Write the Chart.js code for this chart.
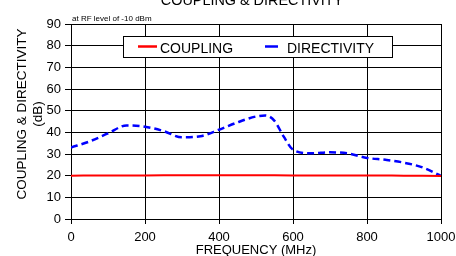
<!DOCTYPE html>
<html>
<head>
<meta charset="utf-8">
<script src="https://cdn.jsdelivr.net/npm/chart.js@4.4.1/dist/chart.umd.min.js"></script>
<style>
  html, body { margin: 0; padding: 0; background: #fff; }
  #wrap { width: 456px; height: 256px; }
</style>
</head>
<body>
<div id="wrap"><canvas id="chart" width="456" height="256"></canvas></div>
<script>
// values
const freqMHz = [0, 50, 100, 150, 200, 250, 300, 350, 400, 450, 500, 525, 550, 575, 600, 650, 700, 750, 800, 850, 900, 950, 1000];
const directivity = [33, 35.8, 39.5, 43.2, 42.6, 40.6, 37.7, 38.2, 41.2, 44.6, 47.3, 47.8, 45.3, 38, 32, 30.3, 30.8, 30.2, 28.2, 27.3, 26, 23.8, 19.9];
const couplingFreq = [0, 100, 200, 300, 400, 500, 600, 700, 800, 900, 1000];
const coupling = [20.0, 20.1, 20.1, 20.2, 20.2, 20.2, 20.1, 20.1, 20.1, 20.0, 19.9];
const xTicks = [0, 200, 400, 600, 800, 1000];
const yTicks = [0, 10, 20, 30, 40, 50, 60, 70, 80, 90];

const FONT = 'Arial, "Liberation Sans", sans-serif';

// header title, note, y-axis title and boxed legend
const extras = {
  id: 'extras',
  afterDraw(chart) {
    const ctx = chart.ctx;
    ctx.save();
    ctx.fillStyle = '#000';
    ctx.textBaseline = 'alphabetic';

    ctx.font = '14.4px ' + FONT;
    ctx.textAlign = 'center';
    ctx.fillText('COUPLING & DIRECTIVITY', 252, 5);

    ctx.font = '8px ' + FONT;
    ctx.textAlign = 'left';
    ctx.fillText('at RF level of -10 dBm', 72, 21);

    ctx.save();
    ctx.translate(22, 114);
    ctx.rotate(-Math.PI / 2);
    ctx.font = '13.5px ' + FONT;
    ctx.textAlign = 'center';
    ctx.textBaseline = 'middle';
    ctx.fillText('COUPLING & DIRECTIVITY', 0, 0);
    ctx.fillText('(dB)', 0, 16);
    ctx.restore();

    // legend box
    ctx.fillStyle = '#fff';
    ctx.fillRect(123, 36, 269, 21);
    ctx.strokeStyle = '#000';
    ctx.lineWidth = 1;
    ctx.strokeRect(123.5, 36.5, 269, 21);

    const items = [
      { x: 138, len: 19, tx: 160 },
      { x: 265, len: 13, tx: 287 }
    ];
    chart.data.datasets.forEach((ds, i) => {
      const it = items[i];
      ctx.strokeStyle = ds.borderColor;
      ctx.lineWidth = 2.5;
      ctx.setLineDash([]);
      ctx.beginPath();
      ctx.moveTo(it.x, 46.5);
      ctx.lineTo(it.x + it.len, 46.5);
      ctx.stroke();
      ctx.fillStyle = '#000';
      ctx.font = '14px ' + FONT;
      ctx.textAlign = 'left';
      ctx.fillText(ds.label, it.tx, 53);
    });
    ctx.restore();
  }
};

new Chart(document.getElementById('chart'), {
  type: 'scatter',
  data: {
    datasets: [
      {
        label: 'COUPLING',
        data: couplingFreq.map((f, i) => ({ x: f, y: coupling[i] })),
        showLine: true,
        borderColor: '#ff0000',
        borderWidth: 2,
        pointRadius: 0,
        tension: 0.4,
        cubicInterpolationMode: 'monotone'
      },
      {
        label: 'DIRECTIVITY',
        data: freqMHz.map((f, i) => ({ x: f, y: directivity[i] })),
        showLine: true,
        borderColor: '#0000ff',
        borderWidth: 2.5,
        borderDash: [7, 4],
        pointRadius: 0,
        tension: 0.4,
        cubicInterpolationMode: 'monotone'
      }
    ]
  },
  options: {
    responsive: false,
    animation: false,
    layout: { padding: { top: 24, right: 15, left: 0, bottom: 0 } },
    plugins: {
      legend: { display: false },
      title: { display: false },
      tooltip: { enabled: false }
    },
    scales: {
      x: {
        type: 'linear',
        min: 0,
        max: 1000,
        afterBuildTicks: (scale) => { scale.ticks = xTicks.map(v => ({ value: v })); },
        afterFit: (scale) => {
          scale.height = 37;
          scale.paddingLeft = 0;
          scale.paddingRight = 0;
        },
        grid: { color: '#000', lineWidth: 1, tickLength: 5, tickColor: '#000' },
        border: { color: '#000', width: 1 },
        ticks: {
          color: '#000',
          font: { family: FONT, size: 13 },
          padding: 6,
          maxRotation: 0,
          callback: (v) => String(v)
        },
        title: {
          display: true,
          text: 'FREQUENCY (MHz)',
          color: '#000',
          font: { family: FONT, size: 13 },
          padding: { top: 0, bottom: -2 }
        }
      },
      y: {
        min: 0,
        max: 90,
        afterBuildTicks: (scale) => { scale.ticks = yTicks.map(v => ({ value: v })); },
        afterFit: (scale) => {
          scale.width = 71;
          scale.paddingTop = 0;
          scale.paddingBottom = 0;
        },
        grid: { color: '#000', lineWidth: 1, tickLength: 6, tickColor: '#000' },
        border: { color: '#000', width: 1 },
        ticks: { color: '#000', font: { family: FONT, size: 13 }, padding: 4, callback: (v) => String(v) }
      }
    }
  },
  plugins: [extras]
});
</script>
</body>
</html>
